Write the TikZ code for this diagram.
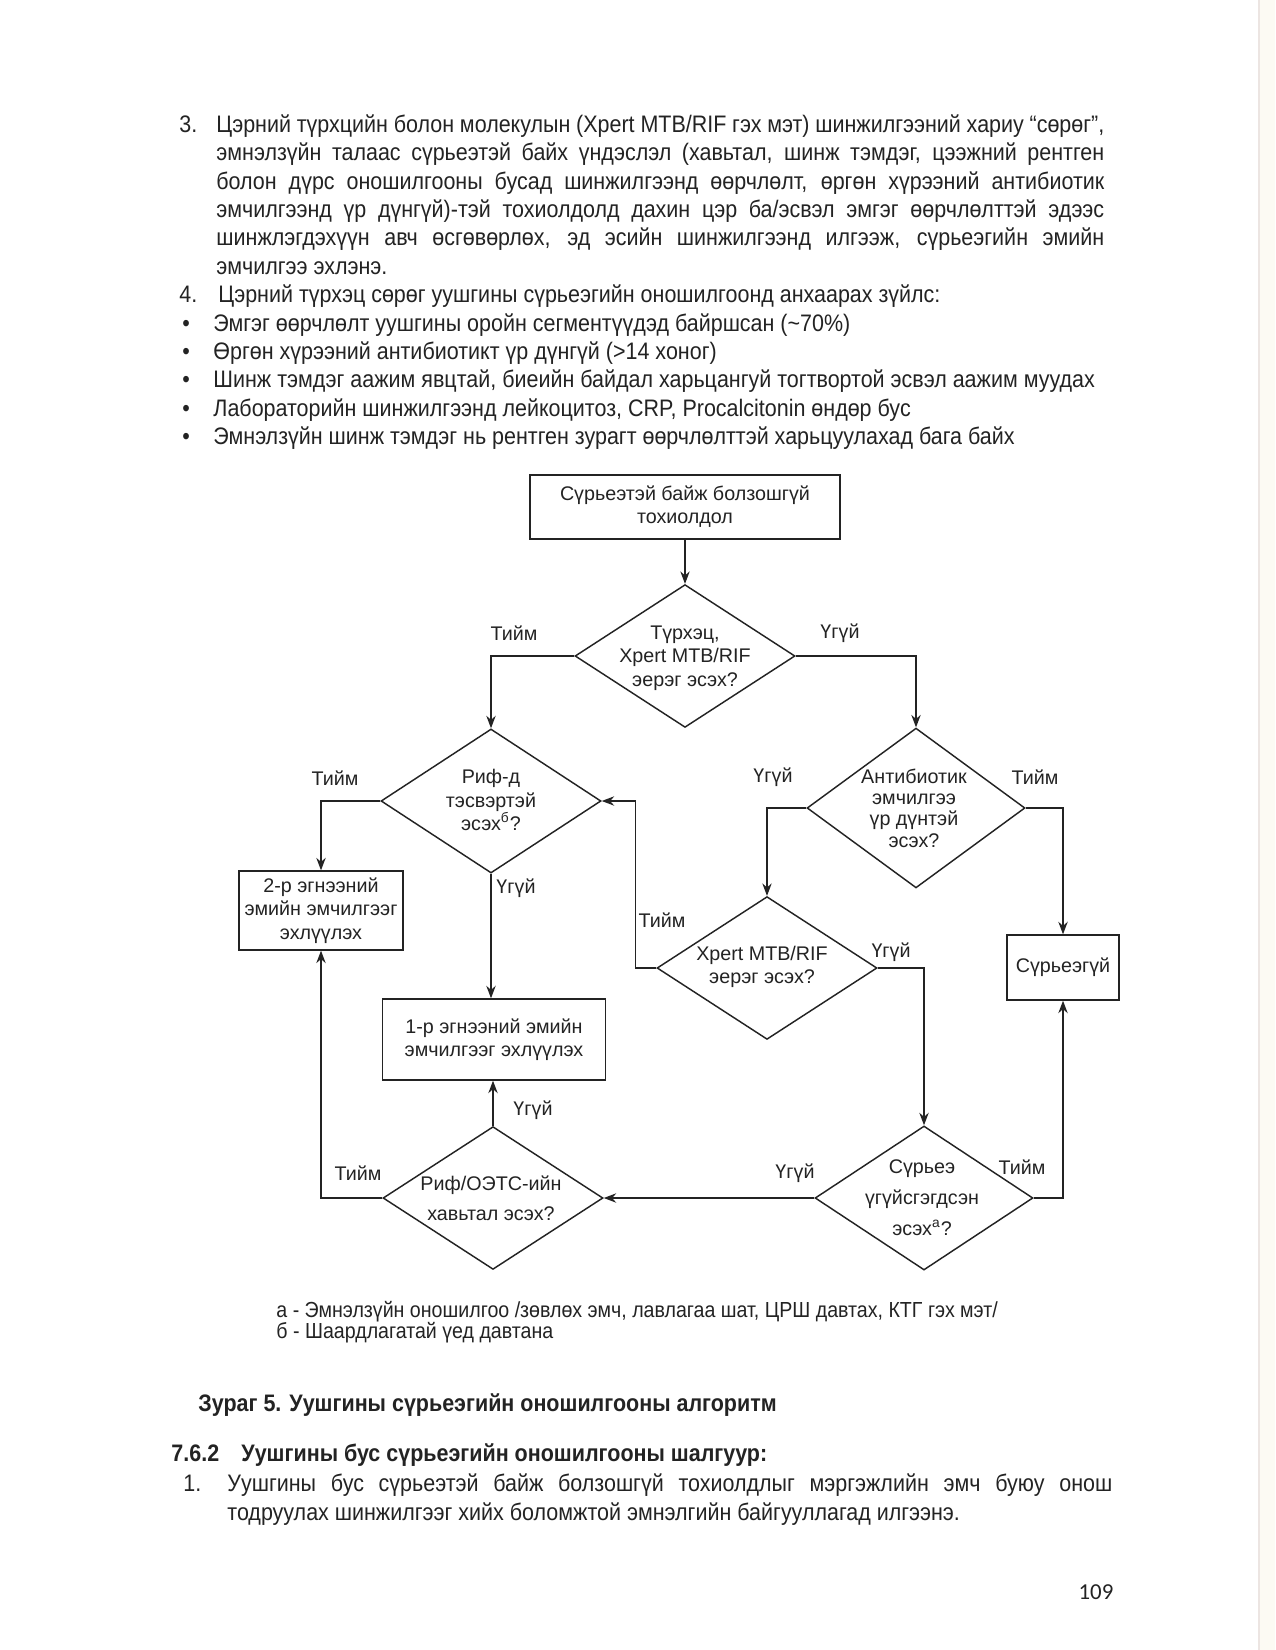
\documentclass[tikz,border=0pt]{standalone}
\usepackage{fontspec}
\setmainfont{Liberation Sans}
\newfontfamily\narrowfont{Liberation Sans}[FakeStretch=0.90]
\newfontfamily\pagefont{Carlito}
\usetikzlibrary{shapes.geometric,arrows.meta}

\definecolor{ink}{RGB}{35,35,35}
\definecolor{edgeTint}{RGB}{252,250,243}
\definecolor{edgeLine}{RGB}{236,229,226}

\tikzstyle{myBody} = [anchor=west, inner sep=0pt, text=ink,
    font=\narrowfont\fontsize{11.5}{13.7}\selectfont, text height=8pt, text depth=2.5pt]
\tikzstyle{myHead} = [myBody, font=\narrowfont\bfseries\fontsize{11.5}{13.7}\selectfont]
\tikzstyle{myNote} = [myBody, font=\narrowfont\fontsize{10.5}{12.5}\selectfont]
\tikzstyle{myBox} = [draw=ink, line width=0.7pt, rectangle, inner sep=1pt,
    align=center, text=ink, font=\fontsize{9.5}{11.2}\selectfont]
\tikzstyle{myDiamond} = [draw=ink, line width=0.7pt, diamond, inner sep=0pt,
    minimum width=106pt, minimum height=68.8pt]
\tikzstyle{myText} = [inner sep=0pt, align=center, text=ink, font=\fontsize{9.5}{11.4}\selectfont]
\tikzstyle{myLabel} = [inner sep=0pt, text=ink, font=\fontsize{9.5}{11}\selectfont]
\tikzstyle{myArrow} = [draw=ink, line width=0.7pt, -{Stealth[length=6pt,width=4.5pt]}]

\newcommand{\fullline}[1]{\makebox[427.8pt][s]{#1}}

\begin{document}
\begin{tikzpicture}[x=0.4818pt, y=-0.4818pt]

\useasboundingbox (0,0) rectangle (1275,1650);
\fill[white] (0,0) rectangle (1275,1650);
\fill[edgeTint] (1258,0) rectangle (1275,1650);
\draw[edgeLine, line width=0.8pt] (1259,0) -- (1259,1650);

% text above the chart
\node[myBody] (item3) at (179,126.5) {3.};
\node[myBody] (item3a) at (216,126.5) {\fullline{Цэрний түрхцийн болон молекулын (Xpert MTB/RIF гэх мэт) шинжилгээний хариу “сөрөг”,}};
\node[myBody] (item3b) at (216,155) {\fullline{эмнэлзүйн талаас сүрьеэтэй байх үндэслэл (хавьтал, шинж тэмдэг, цээжний рентген}};
\node[myBody] (item3c) at (216,183.4) {\fullline{болон дүрс оношилгооны бусад шинжилгээнд өөрчлөлт, өргөн хүрээний антибиотик}};
\node[myBody] (item3d) at (216,211.8) {\fullline{эмчилгээнд үр дүнгүй)-тэй тохиолдолд дахин цэр ба/эсвэл эмгэг өөрчлөлттэй эдээс}};
\node[myBody] (item3e) at (216,240.2) {\fullline{шинжлэгдэхүүн авч өсгөвөрлөх, эд эсийн шинжилгээнд илгээж, сүрьеэгийн эмийн}};
\node[myBody] (item3f) at (216,268.6) {эмчилгээ эхлэнэ.};
\node[myBody] (item4) at (179,297) {4.};
\node[myBody] (item4a) at (218,297) {Цэрний түрхэц сөрөг уушгины сүрьеэгийн оношилгоонд анхаарах зүйлс:};
\node[myBody] (dot1) at (182,325.4) {•};
\node[myBody] (bullet1) at (213,325.4) {Эмгэг өөрчлөлт уушгины оройн сегментүүдэд байршсан (\textasciitilde70\%)};
\node[myBody] (dot2) at (182,353.8) {•};
\node[myBody] (bullet2) at (213,353.8) {Өргөн хүрээний антибиотикт үр дүнгүй (>14 хоног)};
\node[myBody] (dot3) at (182,382.2) {•};
\node[myBody] (bullet3) at (213,382.2) {Шинж тэмдэг аажим явцтай, биеийн байдал харьцангуй тогтвортой эсвэл аажим муудах};
\node[myBody] (dot4) at (182,410.6) {•};
\node[myBody] (bullet4) at (213,410.6) {Лабораторийн шинжилгээнд лейкоцитоз, CRP, Procalcitonin өндөр бус};
\node[myBody] (dot5) at (182,439) {•};
\node[myBody] (bullet5) at (213,439) {Эмнэлзүйн шинж тэмдэг нь рентген зурагт өөрчлөлттэй харьцуулахад бага байх};

% chart
\node[myBox, minimum width=149.4pt, minimum height=30.8pt] (start) at (685,507) {Сүрьеэтэй байж болзошгүй\\тохиолдол};
\node[myDiamond] (smear) at (685,656) {};
\node[myText] (smearText) at (685,658) {Түрхэц,\\Xpert MTB/RIF\\эерэг эсэх?};
\node[myDiamond, minimum height=69.4pt] (rif) at (491,801) {};
\node[myText] (rifText) at (491,800) {Риф-д\\тэсвэртэй\\эсэх\textsuperscript{б}?};
\node[myDiamond, minimum width=105pt, minimum height=77pt] (abx) at (916,808) {};
\node[myText, font=\fontsize{9.5}{10.3}\selectfont] (abxText) at (914,808) {Антибиотик\\эмчилгээ\\үр дүнтэй\\эсэх?};
\node[myBox, minimum width=79pt, minimum height=38pt] (second) at (321,910.5) {2-р эгнээний\\эмийн эмчилгээг\\эхлүүлэх};
\node[myDiamond] (xpert) at (767,968) {};
\node[myText] (xpertText) at (762,967) {Xpert MTB/RIF\\эерэг эсэх?};
\node[myBox, minimum width=54pt, minimum height=31.3pt] (noTB) at (1063,967.5) {Сүрьеэгүй};
\node[myBox, minimum width=107.4pt, minimum height=39pt] (first) at (494,1039.5) {1-р эгнээний эмийн\\эмчилгээг эхлүүлэх};
\node[myDiamond] (contact) at (493,1198) {};
\node[myText, font=\fontsize{9.5}{14.4}\selectfont] (contactText) at (491,1198) {Риф/ОЭТС-ийн\\хавьтал эсэх?};
\node[myDiamond, minimum width=105pt, minimum height=69.4pt] (ruleout) at (924,1198) {};
\node[myText, font=\fontsize{9.5}{15}\selectfont] (ruleoutText) at (922,1198) {Сүрьеэ\\үгүйсгэгдсэн\\эсэх\textsuperscript{а}?};

\node[myLabel] (smearYes) at (514,633) {Тийм};
\node[myLabel] (smearNo) at (840,633) {Үгүй};
\node[myLabel] (rifYes) at (335,778) {Тийм};
\node[myLabel] (rifNo) at (516,888) {Үгүй};
\node[myLabel] (abxNo) at (773,777) {Үгүй};
\node[myLabel] (abxYes) at (1035,777) {Тийм};
\node[myLabel] (xpertYes) at (662,920) {Тийм};
\node[myLabel] (xpertNo) at (891,952) {Үгүй};
\node[myLabel] (contactNo) at (533,1110) {Үгүй};
\node[myLabel] (contactYes) at (358,1173) {Тийм};
\node[myLabel] (ruleoutNo) at (795,1173) {Үгүй};
\node[myLabel] (ruleoutYes) at (1022,1167) {Тийм};

\draw[myArrow] (start.south) -- (smear.north);
\draw[myArrow] (smear.west) -| (rif.north);
\draw[myArrow] (smear.east) -| (abx.north);
\draw[myArrow] (rif.west) -| (second.north);
\draw[myArrow] (rif.south) -- (rif.south |- first.north);
\draw[myArrow] (abx.west) -| (xpert.north);
\draw[myArrow] (abx.east) -| (noTB.north);
\draw[myArrow] (xpert.west) -- ++(-21,0) |- (rif.east);
\draw[myArrow] (xpert.east) -| (ruleout.north);
\draw[myArrow] (ruleout.east) -| (noTB.south);
\draw[myArrow] (ruleout.west) -- (contact.east);
\draw[myArrow] (contact.north) -- (contact.north |- first.south);
\draw[myArrow] (contact.west) -| (second.south);

% notes and text below the chart
\node[myNote] (noteA) at (276,1312) {а - Эмнэлзүйн оношилгоо /зөвлөх эмч, лавлагаа шат, ЦРШ давтах, КТГ гэх мэт/};
\node[myNote] (noteB) at (276,1333) {б - Шаардлагатай үед давтана};
\node[myHead] (figCap) at (198,1406) {Зураг 5. Уушгины сүрьеэгийн оношилгооны алгоритм};
\node[myHead] (secNum) at (171,1456) {7.6.2};
\node[myHead] (secTitle) at (241,1456) {Уушгины бус сүрьеэгийн оношилгооны шалгуур:};
\node[myBody] (item1) at (183,1486) {1.};
\node[myBody] (item1a) at (227,1486) {\makebox[426.4pt][s]{Уушгины бус сүрьеэтэй байж болзошгүй тохиолдлыг мэргэжлийн эмч буюу онош}};
\node[myBody] (item1b) at (227,1515) {тодруулах шинжилгээг хийх боломжтой эмнэлгийн байгууллагад илгээнэ.};

\node[text=ink, font=\pagefont\fontsize{11}{13}\selectfont] (pageNo) at (1096,1592) {109};
\end{tikzpicture}
\end{document}
